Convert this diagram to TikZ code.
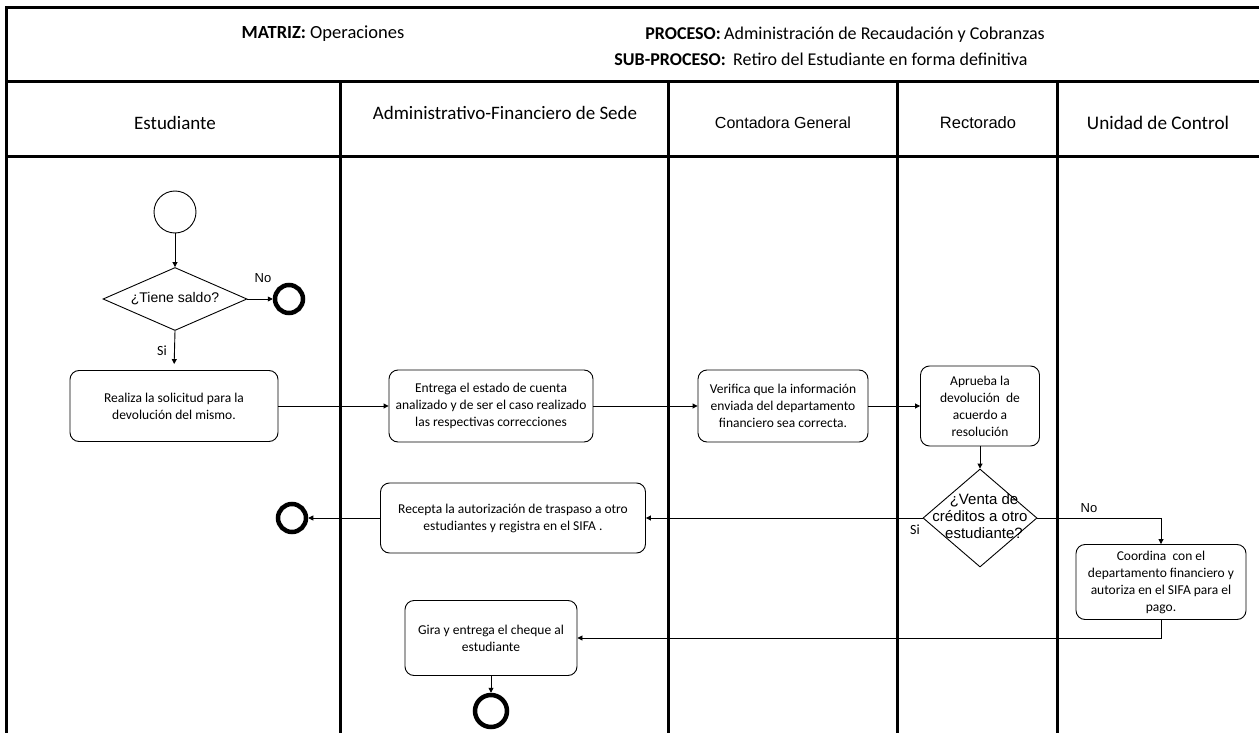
\documentclass[tikz,border=0pt]{standalone}
\usepackage{fontspec}
\setmainfont{Carlito}
\newfontfamily\arial{Liberation Sans}
\usetikzlibrary{shapes.geometric,arrows.meta}

\begin{document}
\begin{tikzpicture}[x=1pt,y=-1pt,
  rule/.style={line width=3pt},
  task/.style={draw, rounded corners=9pt, line width=0.9pt, align=center,
    font=\fontsize{13.5}{17}\selectfont, inner sep=1pt},
  flow/.style={line width=0.9pt, -{Triangle[length=5pt,width=5pt]}},
  startev/.style={draw, circle, line width=0.9pt, minimum size=42pt, inner sep=0pt},
  endev/.style={draw, circle, line width=4.5pt, minimum size=28pt, inner sep=0pt},
  decision/.style={draw, diamond, line width=0.9pt, inner sep=0pt, align=center},
  lanehead/.style={font=\fontsize{19}{22}\selectfont},
  title/.style={font=\fontsize{18}{22}\selectfont, inner sep=0pt},
  lbl/.style={font=\arial\fontsize{13}{15}\selectfont, inner sep=0pt}
]
\useasboundingbox (0,0) rectangle (1259,733);
\fill[white] (0,0) rectangle (1259,733);

% frame and swimlanes
\draw[rule] (6,8) -- (1259,8);
\draw[rule] (6,82) -- (1259,82);
\draw[rule] (6,157) -- (1259,157);
\draw[rule] (6,6.5) -- (6,733);
\foreach \lx in {340,668,897,1057} \draw[rule] (\lx,82) -- (\lx,733);

% title block
\node[title, font=\fontsize{18.5}{22}\selectfont] (matriz) at (323,34) {\textbf{MATRIZ:} Operaciones};
\node[title, anchor=base east] (proclbl) at (721,40) {\textbf{PROCESO:}};
\node[title, anchor=base west] (proc) at (724,40) {Administración de Recaudación y Cobranzas};
\node[title, anchor=base east] (sublbl) at (726,66) {\textbf{SUB-PROCESO:}};
\node[title, anchor=base west] (sub) at (733,66) {Retiro del Estudiante en forma definitiva};

% lane headers
\node[lanehead] (h1) at (175,123) {Estudiante};
\node[lanehead] (h2) at (505,113) {Administrativo-Financiero de Sede};
\node[lanehead, font=\arial\fontsize{16}{19}\selectfont] (h3) at (783,123) {Contadora General};
\node[lanehead, font=\arial\fontsize{16.5}{19}\selectfont] (h4) at (978,123) {Rectorado};
\node[lanehead, font=\fontsize{19.2}{22}\selectfont] (h5) at (1158,123) {Unidad de Control};

% flow elements
\node[startev] (start) at (175,212) {};
\node[decision, minimum width=144pt, minimum height=63pt, aspect=2.3,
  font=\arial\fontsize{14}{16}\selectfont] (saldo) at (175,299) {¿Tiene saldo?};
\node[endev] (fin1) at (289,299) {};
\node[task, minimum width=208pt, minimum height=71pt] (solicitud) at (174,406)
  {Realiza la solicitud para la\\devolución del mismo.};
\node[task, minimum width=204pt, minimum height=72pt] (entrega) at (491,406)
  {Entrega el estado de cuenta\\analizado y de ser el caso realizado\\las respectivas correcciones};
\node[task, minimum width=170pt, minimum height=72pt] (verifica) at (783,406)
  {Verifica que la información\\enviada del departamento\\financiero sea correcta.};
\node[task, minimum width=119pt, minimum height=80pt] (aprueba) at (980,406)
  {Aprueba la\\devolución~ de\\acuerdo a\\resolución};
\node[decision, minimum width=114pt, minimum height=98pt, aspect=1.16,
  font=\arial\fontsize{15}{17}\selectfont] (venta) at (980,518)
  {\makebox[0pt][c]{\begin{tabular}{@{}c@{}}\hspace*{8pt}¿Venta de\\créditos a otro\\\hspace*{8pt}estudiante?\end{tabular}}};
\node[task, minimum width=265pt, minimum height=70pt] (recepta) at (513,518)
  {Recepta la autorización de traspaso a otro\\estudiantes y registra en el SIFA .};
\node[endev] (fin2) at (292,518) {};
\node[task, minimum width=170pt, minimum height=75pt] (coordina) at (1161,582)
  {Coordina~ con el\\departamento financiero y\\autoriza en el SIFA para el\\pago.};
\node[task, minimum width=172pt, minimum height=75pt] (gira) at (491,638)
  {Gira y entrega el cheque al\\estudiante};
\node[endev, minimum size=32pt] (fin3) at (491,711) {};

% connectors
\draw[flow] (start) -- (saldo);
\draw[flow] (saldo.east) -- (fin1.west);
\draw[flow, shorten >=6pt] (saldo.south) -- (solicitud.north);
\draw[flow] (solicitud.east) -- (entrega.west);
\draw[flow] (entrega.east) -- (verifica.west);
\draw[flow] (verifica.east) -- (aprueba.west);
\draw[flow] (aprueba.south) -- (venta.north);
\draw[flow] (venta.west) -- (recepta.east);
\draw[flow] (recepta.west) -- (fin2.east);
\draw[flow] (venta.east) -| (coordina.north);
\draw[flow] (coordina.south) |- (gira.east);
\draw[flow] (gira.south) -- (fin3.north);

% branch labels
\node[lbl] (no1) at (263,278) {No};
\node[lbl, font=\fontsize{14}{16}\selectfont] (si1) at (162,351) {Si};
\node[lbl, font=\fontsize{14}{16}\selectfont] (si2) at (915,530) {Si};
\node[lbl] (no2) at (1089,508) {No};
\end{tikzpicture}
\end{document}
